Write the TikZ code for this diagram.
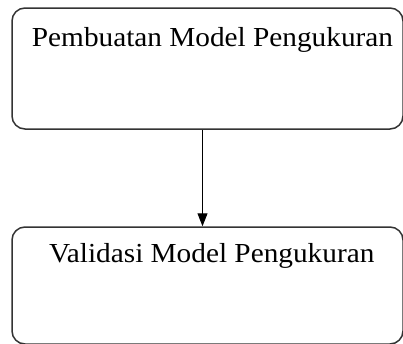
\documentclass[tikz,border=0pt]{standalone}
\usepackage{fontspec}
\setmainfont{Liberation Serif}
\newfontfamily\stagefont[FakeStretch=1.065]{Liberation Serif}
\usetikzlibrary{arrows.meta,calc}
\begin{document}
\begin{tikzpicture}[x=1pt,y=-1pt,
  stagebox/.style={draw=black!80, line width=1.5pt, rounded corners=13pt,
    minimum width=391pt, inner sep=0pt},
  stagetext/.style={anchor=base, inner sep=0pt, font=\stagefont\fontsize{27.5}{32}\selectfont},
  flow/.style={draw=black, line width=1pt, -{Triangle[length=13pt,width=10pt]}}]
  \useasboundingbox (0,0) rectangle (403,343);
  % upper stage
  \node[stagebox, minimum height=121pt] (top) at (207.5,68.5) {};
  \node[stagetext] (toptext) at (212.5,46) {Pembuatan Model Pengukuran};
  % lower stage
  \node[stagebox, minimum height=117pt] (bot) at (207.5,285.5) {};
  \node[stagetext] (bottext) at (211.7,262.7) {Validasi Model Pengukuran};
  % connector
  \draw[flow] ($(top.south)+(-5,0)$) -- ($(bot.north)+(-5,0)$);
\end{tikzpicture}
\end{document}
